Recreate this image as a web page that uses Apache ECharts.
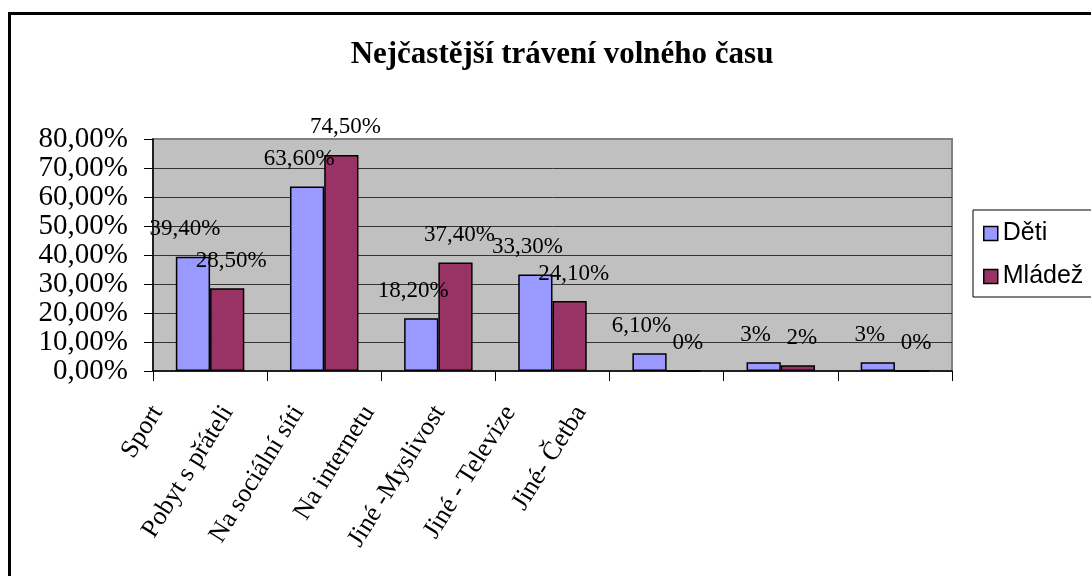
<!DOCTYPE html>
<html>
<head>
<meta charset="utf-8">
<script src="https://cdn.jsdelivr.net/npm/echarts@6/dist/echarts.min.js"></script>
<style>
html, body { margin: 0; padding: 0; background: #fff; }
#main { width: 1091px; height: 576px; }
</style>
</head>
<body>
<div id="main"></div>
<script>
var categories = ['Sport', 'Pobyt s přáteli', 'Na sociální síti', 'Na internetu', 'Jiné -Myslivost', 'Jiné - Televize', 'Jiné- Četba'];
var deti = [39.4, 63.6, 18.2, 33.3, 6.1, 3, 3];
var mladez = [28.5, 74.5, 37.4, 24.1, 0, 2, 0];
var yTicks = { min: 0, max: 80, interval: 10 };

var serif = '"Liberation Serif", "Times New Roman", serif';

// popisky dat jako v Excelu: celá čísla bez desetin
function pct(v) {
    if (Math.round(v) === v) return v + '%';
    return v.toFixed(2).replace('.', ',') + '%';
}

var myChart = echarts.init(document.getElementById('main'));

var option = {
    backgroundColor: '#fff',
    animation: false,
    title: {
        text: 'Nejčastější trávení volného času',
        left: 557,
        textAlign: 'center',
        top: 34,
        textStyle: { fontFamily: serif, fontSize: 31, fontWeight: 'bold', color: '#000' }
    },
    legend: {
        data: ['Děti', 'Mládež'],
        orient: 'vertical',
        left: 973,
        top: 210,
        padding: [11, 40, 8, 10],
        itemWidth: 14,
        itemHeight: 14,
        itemGap: 18,
        borderColor: '#000',
        borderWidth: 1,
        icon: 'rect',
        itemStyle: { borderColor: '#000', borderWidth: 1.5 },
        textStyle: { fontFamily: '"Liberation Sans", Arial, sans-serif', fontSize: 25, color: '#000' }
    },
    grid: [
        {
            left: 153, top: 139, width: 799, height: 232,
            containLabel: false, outerBoundsMode: 'none',
            show: true, backgroundColor: '#C0C0C0', borderColor: '#808080', borderWidth: 2
        },
        {
            left: 122, top: 139, width: 494, height: 232,
            containLabel: false, outerBoundsMode: 'none'
        }
    ],
    xAxis: [
        {
            type: 'category',
            gridIndex: 0,
            data: categories,
            axisLine: { lineStyle: { color: '#000', width: 1.5 } },
            axisTick: { show: true, length: 10, lineStyle: { color: '#000' } },
            axisLabel: { show: false }
        },
        {
            // popisky kategorií (v originále posunuté doleva)
            type: 'category',
            gridIndex: 1,
            data: categories,
            axisLine: { show: false },
            axisTick: { show: false },
            axisLabel: {
                rotate: 58,
                margin: 37,
                interval: 0,
                fontFamily: serif,
                fontSize: 26,
                color: '#000'
            }
        }
    ],
    yAxis: [
        {
            type: 'value',
            gridIndex: 0,
            min: yTicks.min,
            max: yTicks.max,
            interval: yTicks.interval,
            axisLine: { show: true, lineStyle: { color: '#000', width: 1.5 } },
            axisTick: { show: true, length: 9, lineStyle: { color: '#000' } },
            splitLine: { show: true, showMaxLine: false, showMinLine: false, lineStyle: { color: '#333', width: 1 } },
            axisLabel: {
                margin: 25,
                fontFamily: serif,
                fontSize: 29,
                lineHeight: 26,
                showMinLabel: true,
                showMaxLabel: true,
                hideOverlap: false,
                color: '#000',
                formatter: function (v) { return v.toFixed(2).replace('.', ',') + '%'; }
            }
        },
        { type: 'value', gridIndex: 1, show: false, min: 0, max: 80 }
    ],
    series: [
        {
            name: 'Děti',
            type: 'bar',
            data: deti,
            barGap: '0%',
            barCategoryGap: '40%',
            itemStyle: { color: '#9999FF', borderColor: '#000', borderWidth: 1.5 },
            label: {
                show: true,
                position: 'top',
                distance: 16,
                offset: [-8, 0],
                fontFamily: serif,
                fontSize: 23,
                color: '#000',
                formatter: function (p) { return pct(p.value); }
            }
        },
        {
            name: 'Mládež',
            type: 'bar',
            data: mladez,
            barGap: '0%',
            barCategoryGap: '40%',
            itemStyle: { color: '#993366', borderColor: '#000', borderWidth: 1.5 },
            label: {
                show: true,
                position: 'top',
                distance: 16,
                offset: [4, 0],
                fontFamily: serif,
                fontSize: 23,
                color: '#000',
                formatter: function (p) { return pct(p.value); }
            }
        }
    ],
    graphic: [
        {
            type: 'rect',
            left: 7, top: 11,
            shape: { width: 1110, height: 600 },
            style: { fill: 'none', stroke: '#000', lineWidth: 3 },
            z: 100
        }
    ]
};

myChart.setOption(option);
</script>
</body>
</html>
